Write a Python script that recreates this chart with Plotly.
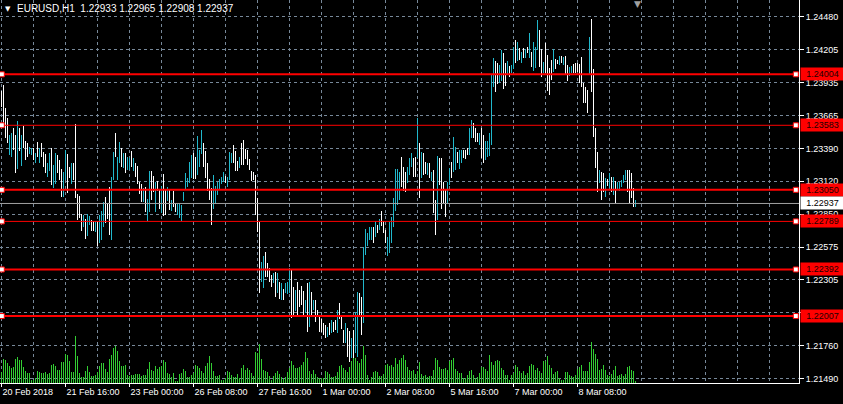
import plotly.graph_objects as go

# ---------------- data ----------------
symbol_text = "EURUSD,H1"
ohlc_text = "1.22933 1.22965 1.22908 1.22937"

highs = [
    1.23866, 1.23916, 1.23723, 1.23640, 1.23503, 1.23516, 1.23558, 1.23503, 1.23618, 1.23558,
    1.23503, 1.23577, 1.23456, 1.23434, 1.23401, 1.23392, 1.23392, 1.23351, 1.23448, 1.23392,
    1.23434, 1.23365, 1.23346, 1.23269, 1.23351, 1.23392, 1.23255, 1.23357, 1.23337, 1.23296,
    1.23219, 1.23200, 1.23379, 1.23346, 1.23241, 1.23269, 1.23269, 1.23593, 1.23015, 1.22999,
    1.22850, 1.22842, 1.22806, 1.22847, 1.22836, 1.22801, 1.22795, 1.22795, 1.22795, 1.22842,
    1.22878, 1.22952, 1.22988, 1.22944, 1.23076, 1.23153, 1.23365, 1.23522, 1.23318, 1.23448,
    1.23392, 1.23351, 1.23351, 1.23318, 1.23310, 1.23373, 1.23310, 1.23269, 1.23247, 1.23117,
    1.23098, 1.23062, 1.23076, 1.22971, 1.23205, 1.23205, 1.23164, 1.23117, 1.23126, 1.23054,
    1.23082, 1.23181, 1.23054, 1.23071, 1.23054, 1.22966, 1.23043, 1.22944, 1.22933, 1.22939,
    1.22925, 1.23035, 1.23192, 1.23145, 1.23283, 1.23338, 1.23357, 1.23324, 1.23495, 1.23379,
    1.23544, 1.23440, 1.23374, 1.23269, 1.23137, 1.23062, 1.23173, 1.23082, 1.23118, 1.23137,
    1.23153, 1.23200, 1.23164, 1.23153, 1.23365, 1.23357, 1.23420, 1.23374, 1.23291, 1.23318,
    1.23440, 1.23462, 1.23385, 1.23379, 1.23302, 1.23208, 1.23200, 1.23173, 1.22980, 1.22787,
    1.22457, 1.22504, 1.22539, 1.22443, 1.22402, 1.22347, 1.22366, 1.22374, 1.22360, 1.22292,
    1.22283, 1.22228, 1.22278, 1.22292, 1.22402, 1.22388, 1.22250, 1.22223, 1.22292, 1.22223,
    1.22256, 1.22217, 1.22140, 1.22278, 1.22292, 1.22209, 1.22140, 1.22140, 1.22058, 1.22016,
    1.21980, 1.21947, 1.21933, 1.21920, 1.21947, 1.21975, 1.21961, 1.21975, 1.22058, 1.22119,
    1.22016, 1.21892, 1.21947, 1.21906, 1.21884, 1.21823, 1.21892, 1.22044, 1.22209, 1.22195,
    1.22167, 1.22575, 1.22724, 1.22690, 1.22746, 1.22740, 1.22746, 1.22795, 1.22759, 1.22809,
    1.22875, 1.22795, 1.22718, 1.22663, 1.22787, 1.22823, 1.22980, 1.23223, 1.23223, 1.23200,
    1.23324, 1.23236, 1.23200, 1.23241, 1.23310, 1.23357, 1.23310, 1.23318, 1.23640, 1.23434,
    1.23365, 1.23351, 1.23282, 1.23269, 1.23269, 1.23200, 1.23214, 1.22966, 1.23329, 1.23310,
    1.23310, 1.23117, 1.23048, 1.23117, 1.23227, 1.23282, 1.23489, 1.23406, 1.23365, 1.23379,
    1.23379, 1.23379, 1.23379, 1.23392, 1.23558, 1.23627, 1.23599, 1.23558, 1.23516, 1.23516,
    1.23558, 1.23503, 1.23456, 1.23456, 1.23522, 1.23998, 1.24136, 1.24117, 1.24100, 1.24081,
    1.24205, 1.24177, 1.24095, 1.24117, 1.24072, 1.24081, 1.24232, 1.24287, 1.24274, 1.24218,
    1.24191, 1.24218, 1.24210, 1.24232, 1.24342, 1.24191, 1.24274, 1.24232, 1.24452, 1.24370,
    1.24210, 1.24108, 1.24260, 1.24163, 1.24053, 1.24122, 1.24210, 1.24128, 1.24122, 1.24155,
    1.24155, 1.24150, 1.24155, 1.24081, 1.24062, 1.24073, 1.24089, 1.24095, 1.24100, 1.24089,
    1.24150, 1.23935, 1.23902, 1.23874, 1.24315, 1.24458, 1.24045, 1.23558, 1.23365, 1.23214,
    1.23200, 1.23186, 1.23145, 1.23137, 1.23186, 1.23159, 1.23159, 1.23125, 1.23117, 1.23117,
    1.23131, 1.23172, 1.23214, 1.23214, 1.23214, 1.23186, 1.23062, 1.22966,
]

lows = [
    1.23737, 1.23571, 1.23475, 1.23434, 1.23337, 1.23324, 1.23379, 1.23192, 1.23219, 1.23373,
    1.23247, 1.23393, 1.23296, 1.23324, 1.23346, 1.23337, 1.23296, 1.23274, 1.23324, 1.23269,
    1.23324, 1.23236, 1.23192, 1.23158, 1.23208, 1.23090, 1.23062, 1.23098, 1.23186, 1.23131,
    1.22993, 1.22993, 1.23131, 1.23026, 1.23145, 1.23098, 1.23131, 1.22980, 1.22801, 1.22814,
    1.22712, 1.22745, 1.22641, 1.22668, 1.22759, 1.22712, 1.22712, 1.22704, 1.22586, 1.22608,
    1.22635, 1.22745, 1.22773, 1.22806, 1.22677, 1.22635, 1.23131, 1.23318, 1.23131, 1.23274,
    1.23241, 1.23227, 1.23186, 1.23214, 1.23214, 1.23241, 1.23208, 1.23153, 1.23098, 1.23015,
    1.22952, 1.22952, 1.22869, 1.22795, 1.22869, 1.22966, 1.23035, 1.22869, 1.23043, 1.22889,
    1.22856, 1.22834, 1.22842, 1.22961, 1.22884, 1.22878, 1.22911, 1.22870, 1.22842, 1.22815,
    1.22795, 1.22961, 1.23049, 1.23071, 1.23104, 1.23145, 1.23137, 1.23142, 1.23173, 1.23236,
    1.23346, 1.23241, 1.23145, 1.23043, 1.22966, 1.22760, 1.22889, 1.22933, 1.23007, 1.23049,
    1.23098, 1.23118, 1.23109, 1.23071, 1.23131, 1.23269, 1.23269, 1.23208, 1.23208, 1.23228,
    1.23255, 1.23255, 1.23302, 1.23255, 1.23214, 1.23126, 1.23131, 1.22842, 1.22705, 1.22201,
    1.22292, 1.22237, 1.22333, 1.22333, 1.22292, 1.22250, 1.22278, 1.22168, 1.22201, 1.22146,
    1.22140, 1.22140, 1.22195, 1.22190, 1.22195, 1.21989, 1.22003, 1.22052, 1.22016, 1.22085,
    1.22099, 1.22016, 1.22030, 1.21873, 1.21920, 1.22003, 1.22058, 1.21961, 1.22008, 1.21879,
    1.21878, 1.21851, 1.21823, 1.21837, 1.21851, 1.21870, 1.21878, 1.21892, 1.21865, 1.21980,
    1.21898, 1.21782, 1.21788, 1.21672, 1.21631, 1.21658, 1.21658, 1.21699, 1.21672, 1.22002,
    1.21851, 1.21947, 1.22512, 1.22586, 1.22635, 1.22635, 1.22613, 1.22663, 1.22696, 1.22718,
    1.22751, 1.22691, 1.22613, 1.22503, 1.22531, 1.22608, 1.22740, 1.22878, 1.22925, 1.22966,
    1.23070, 1.23043, 1.23031, 1.23103, 1.23172, 1.23241, 1.23159, 1.23159, 1.23310, 1.22980,
    1.23145, 1.23172, 1.23180, 1.23172, 1.23145, 1.23125, 1.22856, 1.22677, 1.22801, 1.23090,
    1.22889, 1.22938, 1.22828, 1.22938, 1.23090, 1.23145, 1.23200, 1.23214, 1.23269, 1.23219,
    1.23269, 1.23310, 1.23304, 1.23337, 1.23337, 1.23475, 1.23475, 1.23448, 1.23448, 1.23420,
    1.23310, 1.23274, 1.23296, 1.23324, 1.23329, 1.23420, 1.23896, 1.23860, 1.23924, 1.23935,
    1.23951, 1.23880, 1.23907, 1.23998, 1.23984, 1.24012, 1.24045, 1.24100, 1.24117, 1.24122,
    1.24100, 1.24136, 1.24136, 1.24177, 1.24136, 1.24067, 1.24034, 1.24053, 1.24205, 1.24067,
    1.23979, 1.24017, 1.24012, 1.23869, 1.23833, 1.23957, 1.24026, 1.24045, 1.24089, 1.24081,
    1.24095, 1.24081, 1.24006, 1.23951, 1.23990, 1.24012, 1.24012, 1.24012, 1.24026, 1.23935,
    1.23902, 1.23770, 1.23770, 1.23682, 1.23998, 1.23860, 1.23489, 1.23227, 1.23035, 1.23103,
    1.22966, 1.23035, 1.22993, 1.23081, 1.23062, 1.23035, 1.23007, 1.22944, 1.23048, 1.23043,
    1.23076, 1.23103, 1.23131, 1.23035, 1.22944, 1.22980, 1.22911, 1.22905,
]

# 1 = bullish bar (close > open), 0 = bearish bar
ups = [
    0,0,0,0,1,1,0,0,1,0, 1,0,0,0,1,1,0,1,0,1, 0,0,0,1,1,0,1,1,0,0, 0,1,1,0,0,1,0,0,0,0,
    0,1,0,1,1,0,0,1,0,1, 1,1,0,0,0,1,1,0,1,1, 0,1,0,1,1,0,1,0,0,0, 0,1,0,1,1,0,0,1,0,0,
    1,0,0,1,0,1,0,0,1,1, 1,1,1,1,1,1,0,0,1,1, 1,0,0,0,0,0,1,1,1,1, 1,1,0,1,1,1,0,0,0,1,
    0,0,0,0,0,0,0,0,0,0, 1,1,0,0,0,0,1,0,1,0, 1,0,1,1,1,0,0,1,0,0, 0,0,1,0,1,0,1,0,0,0,
    0,0,0,1,0,1,0,0,1,0, 0,0,1,0,0,1,0,1,1,0, 0,1,1,1,1,1,0,1,0,1, 0,0,0,1,1,1,1,1,1,1,
    0,0,0,1,1,1,0,0,1,0, 1,0,0,1,0,1,0,0,1,0, 0,0,0,1,1,0,1,1,0,1, 1,0,0,0,1,1,0,0,0,1,
    0,0,1,1,1,1,1,0,0,1, 1,0,0,1,0,1,1,0,1,0, 1,0,1,0,1,0,1,1,1,0, 0,1,0,0,0,0,1,0,0,1,
    0,1,0,0,1,1,0,0,0,0, 0,0,0,0,1,0,0,0,0,1, 0,0,1,0,1,0,1,0,1,1, 1,1,1,0,0,0,0,1,
]

# tick volume (hundreds of ticks)
volumes = [
    11,24,23,20,17,15,16,24,26,23, 23,16,12,10,10,3,3,5,12,11, 10,10,11,9,10,18,19,17,13,13,
    21,21,29,28,22,11,11,47,27,10, 6,6,12,17,11,7,7,8,11,17, 20,20,14,11,24,28,35,37,32,22,
    17,17,18,8,7,8,8,9,9,9, 7,8,8,14,21,13,12,17,14,16,
    17,23,21,10,9,6,10,2,2,9, 10,14,12,6,6,8,10,18,17,15, 12,10,17,20,27,20,12,7,7,8,
    3,3,5,12,11,8,6,6,9,5, 15,18,13,15,13,10,7,31,30,39, 24,13,12,11,7,3,7,10,12,9,
    6,4,6,11,15,22,18,15,15,16, 18,21,31,25,12,9,13,9,6,5,
    5,5,12,11,9,6,6,7,11,17, 18,15,13,11,16,22,28,25,22,20, 24,37,28,8,3,6,11,12,11,7,
    7,9,18,19,17,18,16,25,19,23, 25,28,23,16,13,12,13,9,12,21, 9,7,8,6,7,7,13,25,23,16,
    14,14,15,13,22,23,25,14,12,10, 10,5,5,8,12,13,8,5,6,10,
    16,16,14,12,28,21,18,22,23,22, 15,13,8,8,3,8,10,18,16,12, 10,12,8,10,17,19,18,13,15,12,
    10,22,22,27,18,15,9,11,12,5, 3,3,11,11,8,7,6,8,14,16, 18,12,12,12,21,41,34,29,24,13,
    14,18,13,8,7,9,13,17,7,8, 9,7,9,16,17,13,12,2,
]

time_tick_bars = [0, 32, 64, 96, 128, 160, 192, 224, 256, 288]
time_tick_labels = ["20 Feb 2018", "21 Feb 16:00", "23 Feb 00:00", "26 Feb 08:00",
                    "27 Feb 16:00", "1 Mar 00:00", "2 Mar 08:00", "5 Mar 16:00",
                    "7 Mar 00:00", "8 Mar 08:00"]

price_ticks = [1.24480, 1.24205, 1.23935, 1.23665, 1.23390, 1.23120,
               1.22850, 1.22575, 1.22305, 1.22035, 1.21760, 1.21490]
price_tick_labels = ["1.24480", "1.24205", "1.23935", "1.23665", "1.23390", "1.23120",
                     "1.22850", "1.22575", "1.22305", "", "1.21760", "1.21490"]

levels = [1.24004, 1.23583, 1.23050, 1.22789, 1.22392, 1.22007]
last_price = 1.22937

# ---------------- styles ----------------
W, H = 843, 404
BG = "#000000"
UP_COLOR = "#20B8CC"
DOWN_COLOR = "#FFFFFF"
VOL_COLOR = "#32CD32"
GRID_COLOR = "#778899"
LEVEL_COLOR = "#FF0000"
LEVEL_WIDTHS = [2, 1, 2, 1, 2, 2]
FONT = "Liberation Sans"
FS = 9
HEADER_FS = 10
X_RANGE = [-0.75, 398.75]
PRICE_RANGE = [1.21454, 1.24618]
VOL_RANGE = [0, 383]
BAR_W = 0.5  # one pixel column per bar

n = len(highs)

fig = go.Figure()

# volumes (main subplot, bottom layer)
fig.add_trace(go.Bar(x=list(range(n)), y=volumes, width=BAR_W,
                     marker=dict(color=VOL_COLOR, line=dict(width=0)),
                     hoverinfo="skip", showlegend=False, xaxis="x", yaxis="y"))

# price bars: high-low ranges (overlay subplot)
for flag, col in ((0, DOWN_COLOR), (1, UP_COLOR)):
    idx = [i for i in range(n) if ups[i] == flag]
    fig.add_trace(go.Bar(x=idx, base=[lows[i] for i in idx],
                         y=[highs[i] - lows[i] for i in idx], width=BAR_W,
                         marker=dict(color=col, line=dict(width=0)),
                         hoverinfo="skip", showlegend=False, xaxis="x2", yaxis="y2"))

# current price line
fig.add_trace(go.Scatter(x=X_RANGE, y=[last_price, last_price], mode="lines",
                         line=dict(color="#A0A0A0", width=1), hoverinfo="skip",
                         showlegend=False, xaxis="x2", yaxis="y2"))

# horizontal level lines with selection squares at both ends
for lvl, lw in zip(levels, LEVEL_WIDTHS):
    fig.add_trace(go.Scatter(x=X_RANGE, y=[lvl, lvl], mode="lines",
                             line=dict(color=LEVEL_COLOR, width=lw), hoverinfo="skip",
                             showlegend=False, xaxis="x2", yaxis="y2"))
    fig.add_trace(go.Scatter(x=[X_RANGE[0] + 0.9, X_RANGE[1] - 1.6], y=[lvl, lvl],
                             mode="markers",
                             marker=dict(symbol="square", size=5, color="#FFFFFF",
                                         line=dict(color=LEVEL_COLOR, width=1)),
                             hoverinfo="skip", showlegend=False, xaxis="x2", yaxis="y2"))

annotations = []
for lvl in levels:
    annotations.append(dict(xref="paper", x=1, xanchor="left", xshift=1,
                            yref="y2", y=lvl, yanchor="middle",
                            text=f"{lvl:.5f}", showarrow=False, bgcolor=LEVEL_COLOR,
                            width=43, height=12, borderpad=0, align="center",
                            font=dict(family=FONT, size=FS, color="#1a0000")))
annotations.append(dict(xref="paper", x=1, xanchor="left", xshift=1,
                        yref="y2", y=last_price, yanchor="middle",
                        text=f"{last_price:.5f}", showarrow=False, bgcolor="#FFFFFF",
                        width=43, height=12, borderpad=0, align="center",
                        font=dict(family=FONT, size=FS, color="#000000")))
# header
annotations.append(dict(xref="paper", yref="paper", x=0, y=1, xanchor="left", yanchor="top",
                        xshift=3, yshift=-3, text="▼", showarrow=False,
                        font=dict(family="DejaVu Sans", size=7, color="#FFFFFF")))
annotations.append(dict(xref="paper", yref="paper", x=0, y=1, xanchor="left", yanchor="top",
                        xshift=15, yshift=-1,
                        text=symbol_text + "\u00a0\u00a0" + ohlc_text.replace(" ", "\u00a0"),
                        showarrow=False,
                        font=dict(family=FONT, size=HEADER_FS, color="#FFFFFF")))
# chart shift marker (just right of the last bar)
annotations.append(dict(xref="x2", yref="paper", x=n - 0.25, y=1, xanchor="center",
                        yanchor="top", yshift=3, text="▼", showarrow=False,
                        font=dict(family="DejaVu Sans", size=9, color="#A0A0A0")))

tickfont = dict(family=FONT, size=FS, color="#FFFFFF")

fig.update_layout(
    width=W, height=H,
    margin=dict(l=0, r=44, t=0, b=21, pad=0, autoexpand=False),
    paper_bgcolor=BG, plot_bgcolor=BG,
    showlegend=False, barmode="overlay", bargap=0,
    annotations=annotations,
    xaxis=dict(range=X_RANGE, tickmode="array", tickvals=time_tick_bars,
               ticktext=time_tick_labels, ticks="outside", ticklen=3, tickcolor="#FFFFFF",
               tickfont=tickfont, ticklabelposition="outside right", tickangle=0,
               automargin=False,
               showgrid=False, zeroline=False, showline=True, linecolor="#FFFFFF",
               linewidth=1, fixedrange=True),
    yaxis=dict(range=VOL_RANGE, visible=False, showgrid=False, zeroline=False,
               fixedrange=True, automargin=False),
    xaxis2=dict(overlaying="x", anchor="y2", range=X_RANGE, tickmode="array",
                tickvals=list(range(0, 399, 16)), showticklabels=False, ticks="",
                showgrid=True, gridcolor=GRID_COLOR, griddash="3px,3px", gridwidth=1,
                zeroline=False, showline=False, fixedrange=True, automargin=False),
    yaxis2=dict(overlaying="y", anchor="x2", side="right", range=PRICE_RANGE,
                tickmode="array", tickvals=price_ticks, ticktext=price_tick_labels,
                ticks="outside", ticklen=4, tickcolor="#FFFFFF", tickfont=tickfont,
                showgrid=True, gridcolor=GRID_COLOR, griddash="3px,3px", gridwidth=1,
                zeroline=False, showline=True, linecolor="#FFFFFF", linewidth=1,
                fixedrange=True, automargin=False),
)

fig.write_html("out.html", config={"displayModeBar": False},
               post_script="document.body.style.margin='0px';")
